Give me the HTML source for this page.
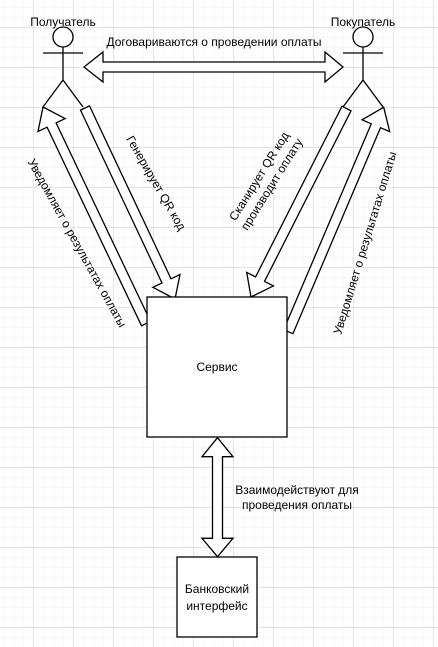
<!DOCTYPE html>
<html><head><meta charset="utf-8"><style>
html,body{margin:0;padding:0;background:#fff;}
svg{display:block;font-family:"Liberation Sans",Arial,sans-serif;}
</style></head><body>
<svg width="438" height="647" viewBox="0 0 438 647" xmlns="http://www.w3.org/2000/svg">
<defs>
<pattern id="minor" width="10" height="10" patternUnits="userSpaceOnUse" x="3" y="7">
<path d="M0 0H10M0 0V10" fill="none" stroke="#f0f0f0" stroke-width="1"/>
</pattern>
<pattern id="major" width="40" height="40" patternUnits="userSpaceOnUse" x="33.5" y="27.5">
<path d="M0 0H40M0 0V40" fill="none" stroke="#dadada" stroke-width="1"/>
</pattern>
</defs>
<rect width="438" height="647" fill="url(#minor)"/>
<rect width="438" height="647" fill="url(#major)"/>

<g fill="none" stroke="#000" stroke-width="1.3">
<!-- left actor -->
<circle cx="63" cy="37" r="10" fill="#fff"/>
<path d="M63 47V80M43 53H83M63 80L43 107M63 80L83 107"/>
<!-- right actor -->
<circle cx="363" cy="37" r="10" fill="#fff"/>
<path d="M363 47V80M343 53H383M363 80L343 107M363 80L383 107"/>
</g>

<g fill="#fff" stroke="#000" stroke-width="1.3" stroke-linejoin="miter">
<!-- horizontal double arrow -->
<polygon points="84,67 103,52 103,62 325,62 325,52 343,67 325,82 325,72 103,72 103,82"/>
<!-- Генерирует -->
<polygon points="80.5,110.1 162,283 152.9,287.3 175,299 180,274.5 171,278.8 89.5,105.9"/>
<!-- left notify -->
<polygon points="150.5,321.4 56.1,122.9 65.1,118.6 43,107 38,131.5 47.1,127.2 141.5,325.7"/>
<!-- Сканирует -->
<polygon points="351,110.8 264.5,281.4 273.4,285.9 251,297 246.7,272.4 255.6,276.9 342,106.2"/>
<!-- right notify -->
<polygon points="292.9,333.7 380.5,127.7 389.7,131.6 383.7,107.3 362.1,119.8 371.3,123.8 283.7,329.7"/>
<!-- boxes -->
<rect x="147" y="297" width="140" height="140"/>
<rect x="177" y="557" width="80" height="80"/>
<!-- vertical double arrow -->
<polygon points="217.5,437.7 233,456.7 222.5,456.7 222.5,538.3 233,538.3 217.5,556.7 202,538.3 212.5,538.3 212.5,456.7 202,456.7"/>
</g>

<g font-size="12" fill="#000">
<text x="63" y="26" text-anchor="middle">Получатель</text>
<text x="363" y="26" text-anchor="middle">Покупатель</text>
<text x="214" y="46" text-anchor="middle">Договариваются о проведении оплаты</text>
<text x="217" y="371" text-anchor="middle">Сервис</text>
<text x="217" y="593" text-anchor="middle">Банковский</text>
<text x="217" y="610" text-anchor="middle">интерфейс</text>
<text x="297" y="494" text-anchor="middle">Взаимодействуют для</text>
<text x="297" y="509" text-anchor="middle">проведения оплаты</text>
<text transform="translate(156,183) rotate(60)" text-anchor="middle" y="4">Генерирует QR код</text>
<text transform="translate(77,243) rotate(61)" text-anchor="middle" y="4">Уведомляет о результатах оплаты</text>
<text transform="translate(265,180) rotate(-58)" text-anchor="middle"><tspan x="0" y="-3">Сканирует QR код</tspan><tspan x="0" y="12">производит оплату</tspan></text>
<text transform="translate(365,243) rotate(-73)" text-anchor="middle" y="4">Уведомляет о результатах оплаты</text>
</g>
</svg>
</body></html>
